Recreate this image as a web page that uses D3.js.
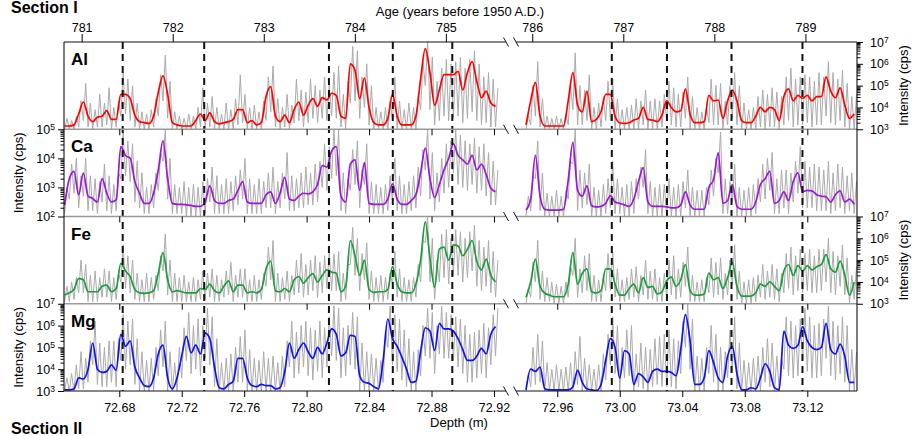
<!DOCTYPE html>
<html><head><meta charset="utf-8">
<script src="https://cdn.jsdelivr.net/npm/d3@7"></script>
<style>
body{margin:0;background:#fff}
svg{display:block}
text{font-family:"Liberation Sans",Arial,Helvetica,sans-serif}
</style></head>
<body><svg id="chart" width="914" height="436"></svg>
<script>
// ---------------- DATA ----------------
const elements = ["Al", "Ca", "Fe", "Mg"];
const panelDecades = [[3, 7], [2, 5], [3, 7], [3, 7]];   // log10 intensity range of each panel
const depthDomainLeft = [72.6446, 72.9277];
const depthDomainRight = [72.9336, 73.1518];
const depthTicksLeft = [72.68, 72.72, 72.76, 72.80, 72.84, 72.88, 72.92];
const depthTicksRight = [72.96, 73.00, 73.04, 73.08, 73.12];
const ageTicksLeft = [781, 782, 783, 784, 785];
const ageTicksRight = [786, 787, 788, 789];
const ageAnchorYearsLeft = [781, 785], ageAnchorDepthsLeft = [72.6559, 72.8892];
const ageAnchorYearsRight = [786, 789], ageAnchorDepthsRight = [72.9440, 73.1188];
const eventDepths = [72.6822, 72.7344, 72.8143, 72.8552, 72.8933, 72.9949, 73.0302, 73.0715, 73.1169];
// smoothed and raw-low samples every depthStep from the start depth; raw-high samples offset by rawHighOffset
const leftStartDepth = 72.645, rightStartDepth = 72.940, depthStep = 0.003, rawHighOffset = 0.0015;

// log10(intensity, cps): smoothed (S), raw high (H), raw low (L); left (L) / right (R) section
const alSL = [3.15,3.15,3.2,3.7,4.25,3.6,3.35,3.55,3.6,3.85,
 3.45,3.45,4.6,4.6,4.4,3.65,3.35,3.3,3.27,3.6,
 4.7,5.45,4.6,3.3,3.2,3.15,3.15,3.15,3.4,3.7,
 3.4,3.75,3.35,3.25,3.3,3.35,3.45,3.9,3.9,3.3,
 3.4,3.2,3.3,4.5,4.95,3.6,3.35,3.65,3.3,3.9,
 4.25,3.65,4.1,4.4,4.05,4.45,4.35,4.65,4.55,3.6,
 3.5,6.0,5.7,4.4,5.35,4.0,3.3,3.2,3.2,3.5,
 4.6,3.6,3.2,3.2,3.2,3.6,5.3,6.7,5.6,4.1,
 4.8,5.5,5.5,5.5,5.65,4.8,5.6,6.1,5.2,4.45,
 4.75,4.2,4.05];
const alHL = [3.5,3.4,3.6,4.3,5.1,4.2,3.9,4.6,4.2,4.9,
 4.0,4.3,5.6,5.3,5.0,4.2,3.8,3.7,3.9,4.4,
 5.5,6.4,5.2,3.8,3.6,3.5,3.7,3.6,4.0,4.9,
 4.2,4.5,4.0,3.7,4.2,3.9,4.4,5.5,4.6,4.0,
 4.1,3.8,4.3,5.4,5.9,4.4,4.0,4.6,4.1,5.3,
 4.8,4.7,5.3,5.0,4.8,5.4,5.1,5.6,5.9,4.6,
 5.2,6.8,6.6,5.4,6.0,5.0,4.0,3.8,4.0,4.3,
 5.4,4.3,3.9,4.2,4.0,4.6,6.1,7.0,6.3,5.2,
 5.8,6.2,6.0,6.1,6.3,5.8,6.2,6.6,6.0,5.4,
 5.6,5.3,4.9];
const alLL = [3.0,3.0,3.0,3.1,3.4,3.1,3.0,3.1,3.1,3.2,
 3.0,3.1,3.6,3.7,3.4,3.1,3.0,3.0,3.0,3.1,
 3.6,4.3,3.5,3.0,3.0,3.0,3.0,3.0,3.0,3.1,
 3.0,3.1,3.0,3.0,3.0,3.0,3.0,3.2,3.3,3.0,
 3.0,3.0,3.0,3.4,3.8,3.1,3.0,3.1,3.0,3.3,
 3.4,3.1,3.3,3.5,3.3,3.5,3.4,3.6,3.5,3.1,
 3.0,4.2,4.3,3.5,4.0,3.2,3.0,3.0,3.0,3.0,
 3.4,3.0,3.0,3.0,3.0,3.0,3.9,5.0,3.9,3.2,
 3.4,3.6,3.4,3.5,3.6,3.3,3.5,3.8,3.4,3.2,
 3.3,3.1,3.1];
const alSR = [3.2,4.3,5.15,3.6,3.15,3.15,3.15,3.15,3.15,4.3,
 5.6,4.1,3.8,4.75,3.35,3.45,3.8,4.6,4.6,3.6,
 3.3,3.27,3.3,3.42,3.5,4.0,3.45,3.42,3.35,3.65,
 4.3,4.0,3.8,3.85,4.85,3.7,3.3,3.3,3.35,4.55,
 4.3,4.34,3.5,4.3,4.8,4.3,3.4,3.3,3.3,3.6,
 4.0,3.8,4.0,3.9,3.4,4.5,4.85,4.3,4.55,4.42,
 4.55,4.3,4.5,4.5,5.4,4.75,4.45,4.9,4.1,3.5,
 3.7];
const alHR = [3.6,5.0,6.1,4.4,3.6,3.5,3.6,3.5,3.7,5.0,
 6.5,5.0,4.8,5.5,4.0,4.2,4.5,5.2,5.3,4.4,
 3.9,4.0,4.1,4.4,4.3,4.8,4.3,4.4,4.3,4.6,
 5.2,4.9,4.6,4.7,5.4,4.5,4.0,3.8,4.0,5.3,
 5.0,5.1,4.3,5.0,5.6,5.0,4.2,3.9,4.0,4.5,
 4.8,4.6,4.9,4.7,4.5,5.4,5.8,5.3,5.4,5.5,
 5.4,5.2,5.6,5.4,6.1,5.6,5.3,5.7,5.1,4.5,
 4.6];
const alLR = [3.0,3.2,3.6,3.1,3.0,3.0,3.0,3.0,3.0,3.2,
 3.9,3.2,3.2,3.4,3.0,3.0,3.1,3.4,3.4,3.0,
 3.0,3.0,3.0,3.0,3.0,3.2,3.0,3.0,3.0,3.1,
 3.4,3.2,3.1,3.1,3.5,3.0,3.0,3.0,3.0,3.3,
 3.2,3.2,3.0,3.2,3.5,3.2,3.0,3.0,3.0,3.0,
 3.1,3.0,3.1,3.1,3.0,3.2,3.4,3.1,3.2,3.2,
 3.3,3.1,3.2,3.2,3.6,3.3,3.2,3.4,3.1,3.0,
 3.0];

const caSL = [2.4,3.3,3.55,2.75,3.49,2.7,2.62,2.5,3.3,2.8,
 2.5,2.57,4.4,4.1,4.0,3.2,2.8,2.45,2.45,2.8,
 3.6,4.6,3.3,2.45,2.42,2.42,2.4,2.38,2.35,2.35,
 2.5,3.05,2.55,2.45,2.45,2.55,2.6,2.9,3.2,2.5,
 2.45,2.45,2.45,2.75,2.85,2.45,2.8,3.35,2.6,2.55,
 2.7,2.8,2.78,2.85,3.1,3.75,3.7,4.25,4.4,2.7,
 2.5,3.8,3.95,2.9,3.85,2.45,2.42,2.42,2.42,2.6,
 3.12,2.6,2.42,2.42,2.55,2.75,3.5,4.35,3.3,2.65,
 3.1,3.6,4.0,4.5,4.1,3.95,3.8,4.1,3.6,3.8,
 3.45,2.97,2.85];
const caHL = [3.0,3.8,4.0,3.4,4.0,3.4,3.3,3.2,3.8,3.4,
 3.1,3.5,4.9,4.6,4.5,3.9,3.5,3.0,3.1,3.5,
 4.2,5.0,4.0,3.1,3.0,3.2,3.0,3.1,3.0,3.2,
 3.3,3.7,3.4,3.1,3.3,3.2,3.4,3.6,4.0,3.3,
 3.1,3.3,3.2,3.5,3.7,3.2,3.5,4.2,3.4,3.3,
 3.5,3.7,3.5,3.8,3.9,4.5,4.4,5.0,5.0,3.5,
 3.3,4.3,4.6,3.6,4.5,3.2,3.1,3.0,3.1,3.4,
 4.0,3.4,3.1,3.2,3.4,3.7,4.3,5.0,4.2,3.5,
 4.0,4.5,4.6,5.0,4.8,4.6,4.5,4.7,4.4,4.5,
 4.2,3.9,3.6];
const caLL = [2.1,2.6,2.8,2.3,2.7,2.2,2.2,2.1,2.5,2.2,
 2.1,2.2,3.3,3.4,3.2,2.5,2.3,2.1,2.1,2.3,
 2.9,3.9,2.6,2.1,2.1,2.1,2.0,2.0,2.0,2.0,
 2.1,2.5,2.1,2.1,2.1,2.1,2.2,2.4,2.6,2.1,
 2.1,2.1,2.1,2.3,2.3,2.1,2.3,2.6,2.2,2.2,
 2.3,2.3,2.4,2.4,2.5,3.0,2.9,3.3,3.4,2.2,
 2.1,2.9,3.1,2.3,3.1,2.1,2.1,2.1,2.1,2.2,
 2.5,2.2,2.1,2.1,2.2,2.3,2.7,3.6,2.6,2.2,
 2.5,2.8,3.0,3.5,3.1,3.0,2.9,3.1,2.8,2.9,
 2.7,2.4,2.4];
const caSR = [2.22,2.6,4.1,2.7,2.25,2.22,2.22,2.22,2.25,3.25,
 4.55,2.9,2.7,3.05,2.37,2.33,2.35,2.45,2.72,2.5,
 2.45,2.4,2.35,2.6,3.2,3.68,2.5,2.35,2.35,2.35,
 2.33,2.3,2.3,2.4,2.85,2.4,2.25,2.25,2.25,3.0,
 3.26,4.2,2.45,2.55,3.1,2.35,2.25,2.25,2.25,2.5,
 3.1,3.3,3.55,2.45,2.55,2.85,2.55,3.2,3.5,2.85,
 2.9,2.88,2.75,2.7,2.68,2.5,2.75,2.88,2.5,2.6,
 2.42];
const caHR = [2.7,3.4,4.6,3.5,2.8,2.7,2.9,2.7,2.9,3.9,
 5.0,3.6,3.5,3.8,3.0,2.9,3.1,3.3,3.9,3.3,
 3.0,3.1,3.2,3.3,3.7,4.3,3.2,3.0,3.1,3.1,
 3.3,3.0,3.1,3.2,3.6,3.0,2.9,2.9,3.0,3.6,
 4.0,4.9,3.3,3.2,3.8,3.0,2.9,3.0,3.1,3.3,
 3.8,4.0,4.2,3.3,3.6,3.6,3.5,3.9,4.4,3.9,
 3.7,3.8,3.7,3.6,3.9,3.5,3.8,3.7,3.4,3.5,
 3.2];
const caLR = [2.0,2.2,3.3,2.2,2.0,2.0,2.0,2.0,2.0,2.6,
 3.8,2.2,2.3,2.4,2.0,2.0,2.0,2.1,2.3,2.1,
 2.1,2.0,2.0,2.1,2.6,3.0,2.1,2.0,2.0,2.0,
 2.0,2.0,2.0,2.0,2.3,2.0,2.0,2.0,2.0,2.4,
 2.7,3.5,2.1,2.1,2.5,2.0,2.0,2.0,2.0,2.1,
 2.5,2.6,2.9,2.1,2.1,2.3,2.1,2.5,2.8,2.3,
 2.3,2.3,2.2,2.2,2.2,2.1,2.2,2.3,2.1,2.2,
 2.1];

const feSL = [3.4,3.5,3.65,4.15,4.1,3.55,3.55,3.55,3.8,3.85,
 3.55,3.7,4.85,4.5,4.24,3.65,3.5,3.48,3.5,3.6,
 4.4,5.35,4.1,3.55,3.6,3.55,3.5,3.5,3.5,3.7,
 3.65,3.9,3.6,3.5,3.8,4.05,3.55,3.85,3.85,3.5,
 3.55,3.5,3.65,4.6,4.95,3.6,3.55,3.7,3.55,4.1,
 4.25,3.95,4.2,4.38,4.0,4.3,4.55,4.45,4.4,3.55,
 3.8,5.9,5.2,4.3,5.0,3.65,3.52,3.55,3.55,3.65,
 4.7,3.9,3.55,3.5,3.5,3.9,5.0,6.75,5.1,3.75,
 5.5,5.6,5.0,5.7,5.65,5.2,5.5,5.9,4.95,4.55,
 5.05,4.3,4.0];
const feHL = [3.8,4.0,4.2,5.0,4.8,4.3,4.5,4.2,4.6,4.5,
 4.2,4.4,5.7,5.2,5.0,4.4,4.1,4.4,4.2,4.3,
 5.2,6.2,5.0,4.4,4.2,4.3,4.0,4.2,4.1,4.5,
 4.4,4.6,4.3,4.1,4.5,4.9,4.3,4.6,4.6,4.1,
 4.3,4.1,4.4,5.6,5.9,4.4,4.2,4.5,4.3,5.0,
 5.3,4.8,5.0,5.2,4.9,5.2,5.4,5.3,5.4,4.4,
 4.8,6.5,6.0,5.3,5.8,4.5,4.2,4.3,4.2,4.4,
 5.4,4.6,4.2,4.1,4.2,4.8,5.9,7.0,6.0,5.0,
 6.2,6.4,6.0,6.4,6.3,6.0,6.3,6.6,5.9,5.6,
 5.9,5.4,5.0];
const feLL = [3.1,3.1,3.2,3.5,3.5,3.1,3.1,3.1,3.3,3.3,
 3.1,3.2,4.0,3.7,3.5,3.2,3.1,3.1,3.1,3.2,
 3.6,4.5,3.4,3.1,3.1,3.1,3.1,3.1,3.1,3.2,
 3.2,3.3,3.1,3.1,3.3,3.4,3.1,3.3,3.3,3.1,
 3.1,3.1,3.2,3.8,4.1,3.1,3.1,3.2,3.1,3.4,
 3.5,3.3,3.4,3.6,3.3,3.5,3.7,3.6,3.6,3.1,
 3.2,4.8,4.3,3.6,4.1,3.2,3.1,3.1,3.1,3.2,
 3.9,3.3,3.1,3.1,3.1,3.3,4.0,5.8,4.0,3.2,
 4.0,4.2,3.9,4.3,4.3,4.0,4.2,4.5,3.8,3.6,
 3.8,3.5,3.3];
const feSR = [3.3,4.0,5.05,3.8,3.48,3.4,3.32,3.32,3.32,3.9,
 5.35,3.9,4.4,4.6,3.55,3.5,3.6,4.6,4.6,3.9,
 3.4,3.4,3.7,3.9,3.5,4.2,3.75,3.8,3.45,3.55,
 4.05,4.22,3.8,4.1,4.8,3.6,3.4,3.4,3.45,4.4,
 4.1,4.2,3.7,4.2,4.9,3.8,3.35,3.35,3.35,3.5,
 3.9,3.8,4.0,3.8,3.6,4.5,4.8,4.3,4.75,4.5,
 4.75,4.55,4.7,4.8,5.25,4.6,4.45,4.95,4.3,3.4,
 4.0];
const feHR = [3.7,4.9,5.9,4.5,4.2,4.0,3.9,3.8,4.0,4.7,
 6.0,4.6,5.2,5.3,4.3,4.1,4.3,5.3,5.4,4.6,
 4.1,4.2,4.6,4.7,4.3,5.0,4.5,4.6,4.2,4.4,
 5.0,5.2,4.6,4.9,5.6,4.3,4.0,4.1,4.2,5.1,
 4.9,5.1,4.4,5.0,5.7,4.5,4.0,4.1,4.2,4.3,
 4.8,4.5,4.8,4.6,4.4,5.3,5.6,5.2,5.5,5.3,
 5.5,5.2,5.5,5.5,6.0,5.4,5.2,5.7,5.1,4.3,
 4.7];
const feLR = [3.0,3.3,4.0,3.2,3.1,3.1,3.0,3.0,3.0,3.3,
 4.3,3.3,3.5,3.6,3.1,3.1,3.1,3.6,3.6,3.3,
 3.1,3.1,3.2,3.3,3.1,3.4,3.2,3.2,3.1,3.1,
 3.3,3.4,3.2,3.3,3.8,3.1,3.1,3.1,3.1,3.5,
 3.3,3.4,3.2,3.4,3.9,3.2,3.0,3.0,3.0,3.1,
 3.3,3.2,3.3,3.2,3.1,3.5,3.7,3.4,3.6,3.5,
 3.6,3.5,3.5,3.6,4.0,3.5,3.4,3.8,3.4,3.0,
 3.2];

const mgSL = [3.05,3.05,3.1,3.6,3.55,4.0,5.2,4.0,3.85,3.9,
 4.2,3.95,5.6,5.05,5.3,4.1,3.6,3.25,3.2,3.6,
 4.7,5.1,3.6,3.1,3.6,4.6,5.5,4.75,5.1,4.7,
 5.65,5.4,4.1,3.15,3.1,3.3,3.45,4.5,4.5,3.6,
 3.25,3.2,3.3,3.25,3.25,3.1,3.15,3.9,5.2,4.5,
 4.9,5.2,4.8,4.5,5.0,4.7,5.2,5.85,5.6,4.6,
 4.75,5.55,5.5,3.7,3.4,3.35,3.2,3.1,4.4,6.3,
 5.4,5.05,4.55,4.0,3.4,3.45,4.8,5.9,5.75,4.85,
 6.1,5.85,5.85,5.75,5.4,4.9,4.4,4.4,4.6,4.95,
 4.7,5.6,5.95];
const mgHL = [3.6,3.8,4.2,4.8,4.5,5.3,6.2,5.2,5.0,5.3,
 5.3,5.4,6.5,6.2,6.3,5.4,4.8,4.4,4.5,5.0,
 5.8,6.2,4.8,4.3,5.0,5.9,6.6,6.0,6.3,6.0,
 6.8,6.4,5.4,4.3,4.5,4.7,5.0,5.5,5.8,4.9,
 4.5,4.4,4.8,4.5,4.6,4.3,4.6,5.3,6.2,5.7,
 6.0,6.2,5.9,5.8,6.2,5.9,6.4,6.9,6.8,5.9,
 6.0,6.6,6.4,5.2,4.8,4.7,4.5,4.4,5.8,6.9,
 6.5,6.3,5.8,5.4,4.8,4.9,6.0,6.8,6.6,6.0,
 6.9,6.6,6.5,6.4,6.3,6.0,5.6,5.7,5.8,6.1,
 5.9,6.5,6.8];
const mgLL = [3.0,3.0,3.0,3.1,3.1,3.4,4.2,3.3,3.2,3.2,
 3.4,3.2,4.4,4.0,4.2,3.3,3.0,3.0,3.0,3.0,
 3.7,4.1,3.0,3.0,3.0,3.6,4.4,3.8,4.0,3.7,
 4.5,4.2,3.2,3.0,3.0,3.0,3.0,3.4,3.4,3.0,
 3.0,3.0,3.0,3.0,3.0,3.0,3.0,3.2,4.1,3.6,
 3.8,4.1,3.7,3.5,3.9,3.6,4.1,4.6,4.4,3.6,
 3.7,4.2,4.0,3.0,3.0,3.0,3.0,3.0,3.4,5.0,
 4.2,3.9,3.5,3.2,3.0,3.0,3.7,4.6,4.5,3.8,
 4.7,4.5,4.5,4.4,4.1,3.8,3.4,3.4,3.6,3.8,
 3.6,4.2,4.6];
const mgSR = [3.05,4.0,3.9,4.1,3.1,3.05,3.05,3.05,3.05,3.05,
 3.2,3.95,3.4,3.1,3.05,3.02,3.3,4.4,5.4,5.0,
 3.6,4.85,4.7,3.3,3.8,3.65,3.4,3.9,4.0,3.9,
 3.9,3.85,3.7,4.9,6.5,5.3,3.3,3.3,3.6,4.85,
 4.3,3.6,3.4,4.6,5.05,3.8,3.05,3.05,3.15,3.1,
 3.6,4.25,3.9,3.15,3.05,5.75,5.1,4.95,5.1,5.95,
 5.3,5.0,4.9,5.0,6.1,4.9,4.7,5.15,4.6,3.4,
 3.4];
const mgHR = [3.8,5.0,5.6,5.3,4.3,4.0,4.2,4.0,4.1,4.3,
 4.8,5.5,4.5,4.2,4.0,4.2,4.7,5.6,6.4,6.0,
 5.0,5.8,6.0,4.7,5.2,5.0,4.9,5.4,5.5,5.6,
 5.8,5.4,5.3,6.2,7.0,6.3,4.6,4.5,5.0,6.0,
 5.6,5.0,4.8,5.8,6.4,5.2,4.4,4.3,4.5,4.6,
 5.0,5.4,5.2,4.6,4.5,6.4,6.2,6.0,6.3,6.8,
 6.4,6.0,6.1,6.3,6.9,6.2,6.0,6.4,6.0,4.9,
 4.8];
const mgLR = [3.0,3.2,3.3,3.4,3.0,3.0,3.0,3.0,3.0,3.0,
 3.0,3.3,3.0,3.0,3.0,3.0,3.0,3.5,4.2,3.8,
 3.0,3.6,3.7,3.0,3.2,3.1,3.0,3.2,3.3,3.2,
 3.2,3.2,3.1,3.8,5.0,4.0,3.0,3.0,3.0,3.8,
 3.4,3.0,3.0,3.6,3.9,3.1,3.0,3.0,3.0,3.0,
 3.0,3.4,3.2,3.0,3.0,4.0,3.7,3.6,3.7,4.4,
 3.9,3.6,3.6,3.7,4.5,3.7,3.5,3.8,3.4,3.0,
 3.0];

// ---------------- CHART ----------------
const series = {
  Al: {L: {s: alSL, h: alHL, l: alLL}, R: {s: alSR, h: alHR, l: alLR}},
  Ca: {L: {s: caSL, h: caHL, l: caLL}, R: {s: caSR, h: caHR, l: caLR}},
  Fe: {L: {s: feSL, h: feHL, l: feLL}, R: {s: feSR, h: feHR, l: feLR}},
  Mg: {L: {s: mgSL, h: mgHL, l: mgLL}, R: {s: mgSR, h: mgHR, l: mgLR}}
};
const colors = {Al: "#ff0000", Ca: "#9b19d2", Fe: "#1e9c3c", Mg: "#1010f0"};
const axisSide = {Al: "right", Ca: "left", Fe: "right", Mg: "left"};
const FONT = '"Liberation Sans",Arial,Helvetica,sans-serif';

const leftDepths = alSL.map((v, i) => +(leftStartDepth + i * depthStep).toFixed(4));
const rightDepths = alSR.map((v, i) => +(rightStartDepth + i * depthStep).toFixed(4));

const svg = d3.select("#chart");
const defs = svg.append("defs");
const plotTop = 42, plotBottom = 391;
const panelH = (plotBottom - plotTop) / 4;
const xL = d3.scaleLinear().domain(depthDomainLeft).range([64, 506]);
const xR = d3.scaleLinear().domain(depthDomainRight).range([516, 857]);
const segs = [["L", xL, leftDepths], ["R", xR, rightDepths]];

elements.forEach((el, k) => {
  const top = plotTop + k * panelH, bot = top + panelH;
  const [e0, e1] = panelDecades[k];
  const y = d3.scaleLog().domain([10 ** e0, 10 ** e1]).range([bot, top]);

  segs.forEach(([seg, x, depths]) => {
    const id = `clip-${el}-${seg}`;
    defs.append("clipPath").attr("id", id).append("rect")
      .attr("x", x.range()[0]).attr("y", top)
      .attr("width", x.range()[1] - x.range()[0]).attr("height", panelH);
    const g = svg.append("g").attr("clip-path", `url(#${id})`);
    const d = series[el][seg];
    // raw record: low samples on the grid, high samples half a step later
    const raw = [];
    depths.forEach((dep, i) => {
      raw.push([dep, d.l[i]]);
      raw.push([dep + rawHighOffset, d.h[i]]);
    });
    g.append("path")
      .attr("d", d3.line().x(p => x(p[0])).y(p => y(10 ** p[1]))(raw))
      .attr("fill", "none").attr("stroke", "#aaaaaa").attr("stroke-width", 1)
      .attr("stroke-linejoin", "miter").attr("stroke-miterlimit", 2);
    g.append("path")
      .attr("d", d3.line().x((v, i) => x(depths[i])).y(v => y(10 ** v)).curve(d3.curveMonotoneX)(d.s))
      .attr("fill", "none").attr("stroke", colors[el]).attr("stroke-width", 1.7);
  });

  // intensity axis
  const side = axisSide[el];
  const axisFn = side === "left" ? d3.axisLeft : d3.axisRight;
  const ax0 = side === "left" ? 64 : 857;
  const majors = d3.range(e0, e1 + 1).map(e => 10 ** e);
  const minors = [];
  for (let e = e0; e < e1; e++) for (let m = 2; m <= 9; m++) minors.push(m * 10 ** e);
  const gMin = svg.append("g").attr("transform", `translate(${ax0},0)`)
    .call(axisFn(y).tickValues(minors).tickSize(3.5).tickFormat(""));
  gMin.select(".domain").remove();
  const gMaj = svg.append("g").attr("transform", `translate(${ax0},0)`)
    .call(axisFn(y).tickValues(majors).tickSize(6).tickPadding(side === "left" ? 3 : 7).tickFormat(() => ""));
  gMaj.select(".domain").remove();
  gMaj.attr("font-family", FONT).attr("font-size", 12.5);
  gMaj.selectAll(".tick text").each(function (v) {
    const t = d3.select(this);
    t.append("tspan").text("10");
    t.append("tspan").attr("dy", "-0.45em").attr("font-size", "8.5px").text(Math.round(Math.log10(v)));
  });
  // axis title
  const tx = side === "left" ? 23 : 908;
  svg.append("text").attr("transform", `translate(${tx},${top + panelH / 2}) rotate(-90)`)
    .attr("text-anchor", "middle").attr("font-size", 13).attr("fill", "#000").text("Intensity (cps)");
  // element label
  svg.append("text").attr("x", 71).attr("y", top + 23).attr("font-size", 17)
    .attr("font-weight", "bold").attr("fill", "#000").text(el);
});

// dashed event lines
svg.append("g").selectAll("line").data(eventDepths).join("line")
  .attr("x1", d => d < depthDomainLeft[1] ? xL(d) : xR(d))
  .attr("x2", d => d < depthDomainLeft[1] ? xL(d) : xR(d))
  .attr("y1", plotTop).attr("y2", plotBottom)
  .attr("stroke", "#111").attr("stroke-width", 2).attr("stroke-dasharray", "7,5");

// horizontal frame lines and separators
segs.forEach(([seg, x]) => {
  const [a, b] = x.range();
  for (let k = 0; k <= 4; k++) {
    const yy = plotTop + k * panelH;
    const outer = k === 0 || k === 4;
    svg.append("line").attr("x1", a).attr("x2", b).attr("y1", yy).attr("y2", yy)
      .attr("stroke", outer ? "#111" : "#999").attr("stroke-width", outer ? 1.1 : 1.3);
  }
});
// vertical frame lines
[64, 857].forEach(xx => svg.append("line").attr("x1", xx).attr("x2", xx)
  .attr("y1", plotTop).attr("y2", plotBottom).attr("stroke", "#111").attr("stroke-width", 1.1));

// break marks
for (let k = 0; k <= 4; k++) {
  const yy = plotTop + k * panelH;
  [xL.range()[1], xR.range()[0]].forEach(bx => {
    svg.append("line").attr("x1", bx - 2.5).attr("x2", bx + 2.5)
      .attr("y1", yy - 4.5).attr("y2", yy + 4.5).attr("stroke", "#111").attr("stroke-width", 1);
  });
}

// depth axes (bottom and separator ticks)
[[xL, depthTicksLeft], [xR, depthTicksRight]].forEach(([x, ticks]) => {
  const gb = svg.append("g").attr("transform", `translate(0,${plotBottom})`)
    .call(d3.axisBottom(x).tickValues(ticks).tickSize(6).tickPadding(6).tickFormat(d3.format(".2f")));
  gb.select(".domain").remove();
  gb.attr("font-family", FONT).attr("font-size", 12.5);
  for (let k = 1; k <= 3; k++) {
    const gs = svg.append("g").attr("transform", `translate(0,${plotTop + k * panelH})`)
      .call(d3.axisBottom(x).tickValues(ticks).tickSize(6).tickFormat(""));
    gs.select(".domain").remove();
  }
});

// age axes (top)
[[ageAnchorYearsLeft, ageAnchorDepthsLeft, xL, ageTicksLeft], [ageAnchorYearsRight, ageAnchorDepthsRight, xR, ageTicksRight]]
  .forEach(([yrs, deps, x, ticks]) => {
    const ageScale = d3.scaleLinear().domain(yrs).range(deps.map(x));
    const ga = svg.append("g").attr("transform", `translate(0,${plotTop})`)
      .call(d3.axisTop(ageScale).tickValues(ticks).tickSize(8).tickPadding(2.5).tickFormat(d3.format("d")));
    ga.select(".domain").remove();
    ga.attr("font-family", FONT).attr("font-size", 12.5);
  });

// titles
svg.append("text").attr("x", 460).attr("y", 15.5).attr("text-anchor", "middle")
  .attr("font-size", 13).attr("fill", "#000").text("Age (years before 1950 A.D.)");
svg.append("text").attr("x", 459).attr("y", 427).attr("text-anchor", "middle")
  .attr("font-size", 13).attr("fill", "#000").text("Depth (m)");
svg.append("text").attr("x", 11).attr("y", 13).attr("font-size", 16).attr("font-weight", "bold")
  .attr("fill", "#000").text("Section I");
svg.append("text").attr("x", 11).attr("y", 434).attr("font-size", 16).attr("font-weight", "bold")
  .attr("fill", "#000").text("Section II");
</script>
</body></html>
